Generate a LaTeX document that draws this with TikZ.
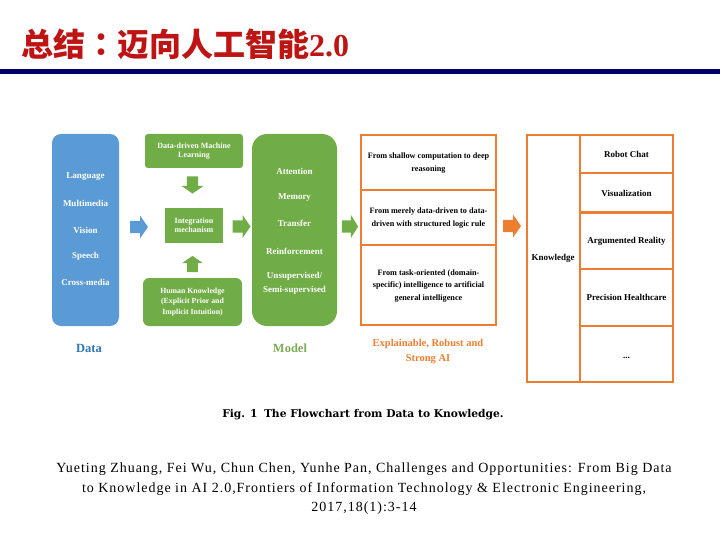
\documentclass[tikz,border=0pt]{standalone}
\usepackage{fontspec}
\setmainfont{Liberation Serif}
\newfontfamily\cjk{Noto Sans CJK SC}
\newfontfamily\cjktc{Noto Sans CJK TC}
\newfontfamily\capfont{DejaVu Serif}
\newfontfamily\citefont[LetterSpace=7]{Liberation Serif}
\definecolor{titlered}{RGB}{190,20,20}
\definecolor{navy}{RGB}{0,0,102}
\definecolor{dblue}{RGB}{91,155,213}
\definecolor{dgreen}{RGB}{112,173,71}
\definecolor{dorange}{RGB}{237,125,49}
\definecolor{lblue}{RGB}{46,117,182}
\definecolor{lgreen}{RGB}{125,172,85}
\tikzset{
  box/.style={draw=none, inner sep=0pt, align=center, text=white, font=\bfseries\fontsize{8}{9.5}\selectfont},
  bigtxt/.style={text=white, font=\bfseries\fontsize{9}{10}\selectfont, inner sep=0pt},
  otxt/.style={text=black, font=\bfseries\fontsize{8.2}{12.2}\selectfont, align=center, inner sep=0pt},
  ktxt/.style={text=black, font=\bfseries\fontsize{9}{10}\selectfont, inner sep=0pt},
  obox/.style={draw=dorange, line width=2.2pt},
  barrow/.pic={\fill (-9,-6) -- (1,-6) -- (1,-11.5) -- (9,0) -- (1,11.5) -- (1,6) -- (-9,6) -- cycle;}
}
\begin{document}
\begin{tikzpicture}[x=1pt,y=-1pt]
\useasboundingbox (0,0) rectangle (720,540);
% title
\node[anchor=base west, inner sep=0pt, text=titlered] (title) at (21,57)
  {\cjk\bfseries\fontsize{32}{32}\selectfont 总结{\cjktc ：}迈向人工智能\rmfamily\bfseries 2.0};
\fill[navy] (0,69) rectangle (720,74);
% data box
\fill[dblue, rounded corners=9pt] (52,134) rectangle (119,326);
\node[bigtxt] (l1) at (85.5,177) {Language};
\node[bigtxt] (l2) at (85.5,203) {Multimedia};
\node[bigtxt] (l3) at (85.5,230) {Vision};
\node[bigtxt] (l4) at (85.5,256) {Speech};
\node[bigtxt] (l5) at (85.5,282) {Cross-media};
\node[text=lblue, font=\bfseries\fontsize{12.5}{13}\selectfont] (datalab) at (89,348) {Data};
% green small boxes
\fill[dgreen, rounded corners=3pt] (145,134) rectangle (243,168);
\node[box] (ddml) at (194,151) {Data-driven Machine\\Learning};
\fill[dgreen] (165,208) rectangle (223,243);
\node[box] (integ) at (194,225.5) {Integration\\mechanism};
\fill[dgreen, rounded corners=6pt] (143,278) rectangle (242,326);
\node[box, font=\bfseries\fontsize{7.8}{10.5}\selectfont] (hk) at (192.5,302) {Human Knowledge\\(Explicit Prior and\\Implicit Intuition)};
% model box
\fill[dgreen, rounded corners=15pt] (252,134) rectangle (337,326);
\node[bigtxt] (m1) at (294.5,171) {Attention};
\node[bigtxt] (m2) at (294.5,198) {Memory};
\node[bigtxt] (m3) at (294.5,223) {Transfer};
\node[bigtxt] (m4) at (294.5,251) {Reinforcement};
\node[bigtxt, align=center, font=\bfseries\fontsize{9}{13.5}\selectfont] (m5) at (294.5,283.5) {Unsupervised/\\Semi-supervised};
\node[text=lgreen, font=\bfseries\fontsize{12.5}{13}\selectfont] (modellab) at (290,348) {Model};
% arrows
\pic[dblue] at (139,227) {barrow};
\pic[dgreen, rotate=-90, scale=0.95] at (192.5,185) {barrow};
\pic[dgreen, rotate=90, scale=0.9] at (192.5,264) {barrow};
\pic[dgreen] at (241.5,226.5) {barrow};
\pic[dgreen, xscale=0.9] at (350,226.5) {barrow};
\pic[dorange] at (512,226) {barrow};
% orange stack
\draw[obox] (361,135) rectangle (496,325);
\draw[obox] (361,190) -- (496,190);
\draw[obox] (361,245) -- (496,245);
\node[otxt] (o1) at (428.5,163) {From shallow computation to deep\\reasoning};
\node[otxt] (o2) at (428.5,218) {From merely data-driven to data-\\driven with structured logic rule};
\node[otxt] (o3) at (428.5,286) {From task-oriented (domain-\\specific) intelligence to artificial\\general intelligence};
\node[text=dorange, align=center, font=\bfseries\fontsize{10.5}{15.5}\selectfont] (elab) at (428,351.5) {Explainable, Robust and\\Strong AI};
% knowledge table
\draw[draw=dorange, line width=2.8pt] (527,135) rectangle (673,382);
\draw[draw=dorange, line width=2pt] (579.5,135) -- (579.5,382);
\draw[draw=dorange, line width=2pt] (579.5,173.5) -- (673,173.5);
\draw[draw=dorange, line width=2.5pt] (579.5,212.5) -- (673,212.5);
\draw[draw=dorange, line width=2pt] (579.5,269) -- (673,269);
\draw[draw=dorange, line width=2pt] (579.5,325.5) -- (673,325.5);
\node[ktxt] (know) at (553,258) {Knowledge};
\node[ktxt] (k1) at (626.5,154) {Robot Chat};
\node[ktxt] (k2) at (626.5,193) {Visualization};
\node[ktxt] (k3) at (626.5,241) {Argumented Reality};
\node[ktxt] (k4) at (626.5,297) {Precision Healthcare};
\node[ktxt, anchor=base] (k5) at (626.5,358) {...};
% caption
\node[font=\capfont\bfseries\fontsize{10.7}{12}\selectfont, inner sep=0pt] (cap) at (363,415) {Fig. 1\hspace{0.6em}The Flowchart from Data to Knowledge.};
% citation
\node[font=\citefont\fontsize{14}{19.5}\selectfont, align=center, inner sep=0pt] (cite) at (364,489)
  {Yueting Zhuang, Fei Wu, Chun Chen, Yunhe Pan, Challenges and Opportunities: From Big Data\\
   to Knowledge in AI 2.0,Frontiers of Information Technology \& Electronic Engineering,\\
   2017,18(1):3-14};
\end{tikzpicture}
\end{document}
